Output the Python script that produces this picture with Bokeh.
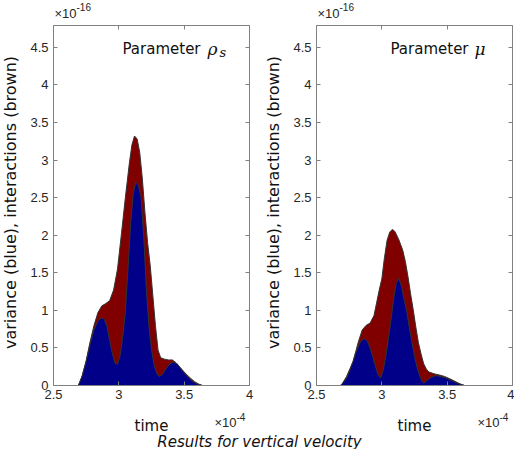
import math
from bokeh.plotting import figure
from bokeh.models import LinearAxis, FixedTicker, Label, Range1d
from bokeh.layouts import column, row
from bokeh.embed import file_html
from bokeh.resources import INLINE

# ---- data: time in units of 1e-4, values in units of 1e-16 ----
rho_inter_t = [2.69, 2.70, 2.72, 2.75, 2.78, 2.81, 2.84, 2.87, 2.90, 2.93, 2.96, 2.99,
               3.02, 3.05, 3.08, 3.10, 3.12, 3.14, 3.16, 3.18, 3.20, 3.22, 3.24, 3.26,
               3.28, 3.30, 3.32, 3.35, 3.38, 3.41, 3.44, 3.47, 3.50, 3.54, 3.58, 3.61, 3.64]
rho_inter_v = [0, 0.04, 0.13, 0.33, 0.58, 0.8, 0.97, 1.06, 1.09, 1.13, 1.27, 1.55,
               2.02, 2.5, 2.95, 3.2, 3.32, 3.28, 3.1, 2.75, 2.3, 1.9, 1.6, 1.2,
               0.8, 0.47, 0.37, 0.35, 0.34, 0.34, 0.3, 0.24, 0.18, 0.11, 0.05, 0.02, 0]

rho_var_t = [2.69, 2.70, 2.72, 2.75, 2.78, 2.81, 2.84, 2.87, 2.89, 2.91, 2.93, 2.95, 2.97,
             2.99, 3.01, 3.03, 3.05, 3.07, 3.09, 3.11, 3.13, 3.15, 3.17, 3.19, 3.21, 3.23,
             3.25, 3.27, 3.29, 3.31, 3.33, 3.36, 3.39, 3.42, 3.45, 3.48, 3.52, 3.56, 3.60, 3.64]
rho_var_v = [0, 0.04, 0.13, 0.32, 0.55, 0.74, 0.86, 0.9, 0.88, 0.78, 0.6, 0.43, 0.3,
             0.28, 0.4, 0.65, 0.98, 1.55, 2.15, 2.55, 2.71, 2.66, 2.5, 2.0, 1.3, 0.8,
             0.48, 0.27, 0.16, 0.12, 0.14, 0.22, 0.29, 0.31, 0.28, 0.21, 0.13, 0.06, 0.02, 0]

mu_inter_t = [2.683, 2.70, 2.73, 2.76, 2.78, 2.80, 2.82, 2.85, 2.88, 2.91, 2.94, 2.96, 2.98,
              3.00, 3.02, 3.04, 3.06, 3.08, 3.10, 3.13, 3.16, 3.18, 3.20, 3.22, 3.24, 3.26,
              3.28, 3.30, 3.32, 3.34, 3.36, 3.40, 3.44, 3.48, 3.52, 3.56, 3.60, 3.633]
mu_inter_v = [0, 0.03, 0.12, 0.24, 0.32, 0.45, 0.58, 0.74, 0.8, 0.83, 0.93, 1.1, 1.27,
              1.42, 1.7, 1.93, 2.04, 2.077, 2.05, 1.94, 1.8, 1.65, 1.45, 1.22, 1.01, 0.78,
              0.57, 0.42, 0.29, 0.22, 0.18, 0.155, 0.14, 0.12, 0.09, 0.055, 0.02, 0]

mu_var_t = [2.683, 2.70, 2.73, 2.75, 2.78, 2.80, 2.83, 2.85, 2.87, 2.89, 2.91, 2.93, 2.95,
            2.97, 2.99, 3.01, 3.03, 3.05, 3.07, 3.09, 3.11, 3.13, 3.15, 3.17, 3.19, 3.21,
            3.23, 3.25, 3.27, 3.29, 3.31, 3.32, 3.34, 3.37, 3.40, 3.42, 3.46, 3.50, 3.54,
            3.58, 3.633]
mu_var_v = [0, 0.03, 0.1, 0.18, 0.32, 0.43, 0.56, 0.61, 0.62, 0.59, 0.5, 0.385, 0.26,
            0.15, 0.1, 0.2, 0.39, 0.62, 0.87, 1.15, 1.36, 1.426, 1.32, 1.15, 0.99, 0.78,
            0.58, 0.39, 0.24, 0.13, 0.05, 0.03, 0.06, 0.1, 0.125, 0.13, 0.115, 0.095, 0.06,
            0.03, 0]

x_ticks = [2.5, 3, 3.5, 4]
x_tick_labels = ["2.5", "3", "3.5", "4"]
y_ticks = [0, 0.5, 1, 1.5, 2, 2.5, 3, 3.5, 4, 4.5]
y_tick_labels = ["0", "0.5", "1", "1.5", "2", "2.5", "3", "3.5", "4", "4.5"]

x_label = "time"
y_label = "variance (blue), interactions (brown)"
x_exp = "-4"
y_exp = "-16"
panel_names = ["Parameter", "Parameter"]
panel_syms = ["\u03c1", "\u03bc"]
panel_subs = ["s", ""]
main_title = "Results for vertical velocity"

BROWN = "#800000"
BLUE = "#000088"
EDGE = "#333333"
AX = "#808080"
TXT = "#262626"
LBL = "#111111"

TOTAL_W = 514
TOP_H = 23          # strip holding the x10^-16 notes
PANEL_TOP = 2
FRAME_H = 360
PANEL_BOTTOM = 20
PANEL_H = PANEL_TOP + FRAME_H + PANEL_BOTTOM
BOT_H = 44          # strip holding x labels, x10^-4 notes and the title

LAB_W = [25, 25]    # strips holding the rotated y labels
LAB_X = [10, 16]
PANEL_W = [232, 232]
BORDER_L = [28, 34]
BORDER_R = [8, 2]
FRAME_W = [PANEL_W[i] - BORDER_L[i] - BORDER_R[i] for i in range(2)]
FRAME_X0 = [LAB_W[0] + BORDER_L[0], LAB_W[0] + PANEL_W[0] + LAB_W[1] + BORDER_L[1]]
YLAB_Y = PANEL_H - 199   # y label centre, measured up from the panel bottom


def style_axis(ax, labels):
    ax.axis_line_color = AX
    ax.major_tick_line_color = AX
    ax.minor_tick_line_color = None
    ax.major_tick_in = 4
    ax.major_tick_out = 0
    ax.major_label_text_font = "Liberation Sans"
    ax.major_label_text_font_size = "13px"
    ax.major_label_text_color = TXT
    if not labels:
        ax.major_label_text_font_size = "0px"
        ax.major_label_standoff = 0


def strip(width, height):
    s = figure(width=width, height=height, output_backend="svg", toolbar_location=None,
               x_axis_type=None, y_axis_type=None, min_border=0,
               x_range=Range1d(0, 1), y_range=Range1d(0, 1))
    s.outline_line_color = None
    s.grid.visible = False
    return s


def txt(fig, x, y, text, font, size, style="normal", align="left", color=TXT,
        angle=0.0, baseline="alphabetic"):
    fig.add_layout(Label(x=x, y=y, x_units="screen", y_units="screen", text=text,
                         text_font=font, text_font_size=size, text_font_style=style,
                         text_color=color, text_align=align, text_baseline=baseline,
                         angle=angle))


def make_panel(i, inter_t, inter_v, var_t, var_v):
    p = figure(width=PANEL_W[i], height=PANEL_H, output_backend="svg", toolbar_location=None,
               x_range=Range1d(2.5, 4), y_range=Range1d(0, 4.79),
               min_border_left=BORDER_L[i], min_border_right=BORDER_R[i],
               min_border_top=PANEL_TOP, min_border_bottom=PANEL_BOTTOM)
    p.outline_line_color = None
    p.grid.visible = False

    p.patch(inter_t, inter_v, fill_color=BROWN, line_color=EDGE, line_width=1)
    p.patch(var_t, var_v, fill_color=BLUE, line_color=EDGE, line_width=1)

    xa = p.xaxis[0]
    ya = p.yaxis[0]
    xa.ticker = FixedTicker(ticks=x_ticks)
    ya.ticker = FixedTicker(ticks=y_ticks)
    xa.major_label_overrides = {float(t): s for t, s in zip(x_ticks, x_tick_labels)}
    ya.major_label_overrides = {float(t): s for t, s in zip(y_ticks, y_tick_labels)}
    style_axis(xa, True)
    style_axis(ya, True)
    xa.major_label_standoff = 4
    ya.major_label_standoff = 5

    top = LinearAxis(ticker=FixedTicker(ticks=x_ticks))
    right = LinearAxis(ticker=FixedTicker(ticks=y_ticks))
    style_axis(top, False)
    style_axis(right, False)
    p.add_layout(top, "above")
    p.add_layout(right, "right")

    fw = FRAME_W[i]
    # panel title inside the frame, top right
    txt(p, fw - 127 if panel_subs[i] else fw - 122, FRAME_H - 23, panel_names[i],
        "DejaVu Sans", "15px", color=LBL)
    txt(p, fw - 42 if panel_subs[i] else fw - 38, FRAME_H - 23, panel_syms[i],
        "DejaVu Serif", "17px", style="italic", color=LBL)
    if panel_subs[i]:
        txt(p, fw - 30, FRAME_H - 27, panel_subs[i], "DejaVu Serif", "13px",
            style="italic", color=LBL)
    return p


p1 = make_panel(0, rho_inter_t, rho_inter_v, rho_var_t, rho_var_v)
p2 = make_panel(1, mu_inter_t, mu_inter_v, mu_var_t, mu_var_v)

labs = []
for i in range(2):
    s = strip(LAB_W[i], PANEL_H)
    txt(s, LAB_X[i], YLAB_Y, y_label, "DejaVu Sans", "16px", align="center", color=LBL,
        angle=math.pi / 2, baseline="middle")
    labs.append(s)

# top strip: y exponent notes
top_strip = strip(TOTAL_W, TOP_H)
for i in range(2):
    txt(top_strip, FRAME_X0[i] + 1, 18, "\u00d710", "Liberation Sans", "13px",
        baseline="top")
    txt(top_strip, FRAME_X0[i] + 23, 21, y_exp, "Liberation Sans", "10px",
        baseline="top")

# bottom strip: x labels, x exponent notes, title
bot_strip = strip(TOTAL_W, BOT_H)
for i in range(2):
    x_right = FRAME_X0[i] + FRAME_W[i]
    txt(bot_strip, FRAME_X0[i] + FRAME_W[i] / 2, BOT_H - 20, x_label, "DejaVu Sans", "15px",
        align="center", color=LBL)
    txt(bot_strip, x_right - 35, BOT_H - 17, "\u00d710", "Liberation Sans", "13px")
    txt(bot_strip, x_right - 13, BOT_H - 11, x_exp, "Liberation Sans", "10px")
txt(bot_strip, TOTAL_W / 2 + 2, 8, main_title, "DejaVu Sans", "15px", style="italic",
    align="center", color=LBL)

layout = column(top_strip, row(labs[0], p1, labs[1], p2, spacing=0), bot_strip, spacing=0)

with open("out.html", "w") as f:
    f.write(file_html(layout, INLINE))
